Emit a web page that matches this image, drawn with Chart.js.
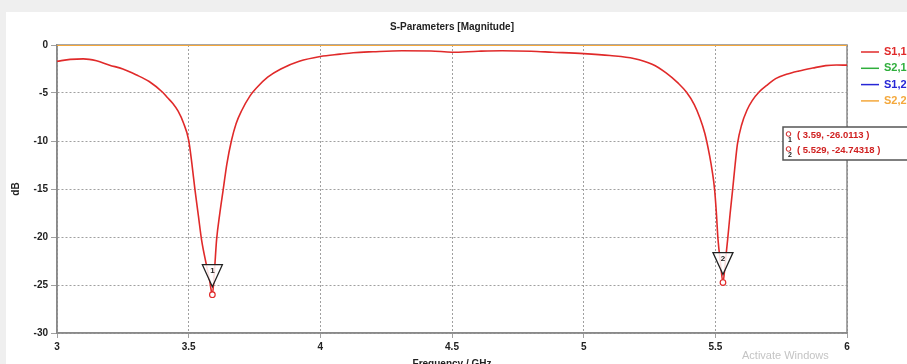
<!DOCTYPE html>
<html>
<head>
<meta charset="utf-8">
<script src="https://cdn.jsdelivr.net/npm/chart.js@4"></script>
<style>
  html, body { margin: 0; padding: 0; background: #fff; }
  canvas { display: block; }
</style>
</head>
<body>
<canvas id="myChart" width="907" height="364"></canvas>
<script>
// S1,1 magnitude (GHz, dB)
var freq = [3.0, 3.05, 3.1, 3.15, 3.2, 3.25, 3.3, 3.35, 3.4, 3.42, 3.44, 3.46, 3.48, 3.5, 3.512, 3.524, 3.537, 3.549, 3.568, 3.58, 3.59, 3.598, 3.606, 3.618, 3.631, 3.645, 3.663, 3.68, 3.7, 3.733, 3.76, 3.8, 3.85, 3.92, 4.0, 4.075, 4.125, 4.2, 4.31, 4.42, 4.5, 4.6, 4.69, 4.8, 4.88, 5.0, 5.1, 5.19, 5.26, 5.313, 5.36, 5.39, 5.42, 5.44, 5.46, 5.478, 5.488, 5.497, 5.504, 5.51, 5.52, 5.529, 5.538, 5.547, 5.556, 5.566, 5.575, 5.584, 5.6, 5.62, 5.64, 5.666, 5.7, 5.729, 5.77, 5.818, 5.87, 5.919, 5.96, 6.0];
var s11  = [-1.7, -1.5, -1.45, -1.65, -2.1, -2.5, -3.1, -3.8, -4.9, -5.5, -6.1, -6.9, -8.1, -9.9, -12.3, -15.1, -17.8, -20.3, -23.0, -24.6, -26.0113, -23.5, -20.3, -17.6, -15.1, -12.4, -9.9, -8.2, -6.9, -5.3, -4.4, -3.35, -2.5, -1.7, -1.2, -0.95, -0.8, -0.7, -0.6, -0.62, -0.75, -0.65, -0.6, -0.65, -0.75, -0.9, -1.1, -1.4, -2.0, -2.9, -4.0, -4.9, -6.2, -7.5, -9.2, -11.5, -13.1, -15.0, -17.5, -20.2, -22.8, -24.74318, -22.6, -20.2, -17.6, -15.0, -12.5, -10.3, -8.3, -6.8, -5.8, -4.9, -4.1, -3.5, -3.05, -2.7, -2.4, -2.15, -2.08, -2.1];
var s21 = [0, 0];
var s12 = [0, 0];
var s22 = [0, 0];
var flatFreq = [3, 6];

var seriesNames = ["S1,1", "S2,1", "S1,2", "S2,2"];
var seriesColors = ["#e02a2a", "#2fae3c", "#2626d6", "#f4a83c"];

var markerFreq = [3.59, 5.529];
var markerDb = [-26.0113, -24.74318];
var markerText = ["( 3.59, -26.0113 )", "( 5.529, -24.74318 )"];

var xTicks = [3, 3.5, 4, 4.5, 5, 5.5, 6];
var yTicks = [0, -5, -10, -15, -20, -25, -30];

function pairs(xs, ys) {
  var out = [];
  for (var i = 0; i < xs.length; i++) out.push({x: xs[i], y: ys[i]});
  return out;
}

var FONT = "'Liberation Sans Narrow', 'Liberation Sans', Arial, sans-serif";

var extras = {
  id: 'extras',
  beforeDraw: function(chart) {
    var c = chart.ctx;
    c.save();
    c.fillStyle = '#ffffff';
    c.fillRect(0, 0, chart.width, chart.height);
    c.fillStyle = '#efefef';
    c.fillRect(0, 0, chart.width, 12);
    c.fillRect(0, 0, 6, chart.height);
    c.restore();
  },
  beforeDatasetsDraw: function(chart) {
    var c = chart.ctx, a = chart.chartArea;
    c.save();
    c.strokeStyle = '#8a8a8a';
    c.lineWidth = 1.5;
    c.strokeRect(a.left, a.top, a.right - a.left, a.bottom - a.top);
    c.restore();
  },
  afterDraw: function(chart) {
    var c = chart.ctx, a = chart.chartArea;
    var xs = chart.scales.x, ys = chart.scales.y;
    c.save();
    // title
    c.fillStyle = '#222';
    c.font = 'bold 10px ' + FONT;
    c.textAlign = 'center';
    c.textBaseline = 'middle';
    c.fillText('S-Parameters [Magnitude]', (a.left + a.right) / 2, 27);
    // axis titles
    c.fillText('Frequency / GHz', (a.left + a.right) / 2, 364);
    c.save();
    c.translate(16, (a.top + a.bottom) / 2);
    c.rotate(-Math.PI / 2);
    c.fillText('dB', 0, 0);
    c.restore();
    // legend
    c.textAlign = 'left';
    c.font = 'bold 11px ' + FONT;
    for (var i = 0; i < seriesNames.length; i++) {
      var ly = 52 + i * 16.3;
      c.strokeStyle = seriesColors[i];
      c.lineWidth = 1.5;
      c.beginPath();
      c.moveTo(861, ly);
      c.lineTo(879, ly);
      c.stroke();
      c.fillStyle = seriesColors[i];
      c.fillText(seriesNames[i], 884, ly);
    }
    // marker triangles
    for (var m = 0; m < markerFreq.length; m++) {
      var px = xs.getPixelForValue(markerFreq[m]);
      var py = ys.getPixelForValue(markerDb[m]);
      c.fillStyle = 'rgba(255,255,255,0.85)';
      c.strokeStyle = '#222';
      c.lineWidth = 1.3;
      c.beginPath();
      c.moveTo(px - 10, py - 30);
      c.lineTo(px + 10, py - 30);
      c.lineTo(px, py - 8);
      c.closePath();
      c.fill();
      c.stroke();
      c.fillStyle = '#222';
      c.font = 'bold 8px ' + FONT;
      c.textAlign = 'center';
      c.fillText(String(m + 1), px, py - 24);
    }
    // marker value box
    c.fillStyle = '#ffffff';
    c.fillRect(783, 127, 130, 33);
    c.strokeStyle = '#555';
    c.lineWidth = 1.5;
    c.strokeRect(783, 127, 130, 33);
    c.textAlign = 'left';
    for (var k = 0; k < markerText.length; k++) {
      var ty = 135 + k * 15;
      c.strokeStyle = '#d02020';
      c.lineWidth = 1;
      c.beginPath();
      c.arc(788.5, ty - 1, 2.3, 0, Math.PI * 2);
      c.stroke();
      c.fillStyle = '#222';
      c.font = 'bold 7px ' + FONT;
      c.fillText(String(k + 1), 788, ty + 5);
      c.fillStyle = '#d02020';
      c.font = 'bold 9.5px ' + FONT;
      c.fillText(markerText[k], 797, ty);
    }
    // watermark
    c.fillStyle = '#c4c4c4';
    c.font = '11px ' + FONT;
    c.fillText('Activate Windows', 742, 356);
    c.restore();
  }
};

var ctx = document.getElementById("myChart");
var myChart = new Chart(ctx, {
  type: 'line',
  data: {
    datasets: [{
      label: 'S1,1',
      data: pairs(freq, s11),
      borderColor: seriesColors[0],
      borderWidth: 1.6,
      pointRadius: 0,
      cubicInterpolationMode: 'monotone',
      order: 4
    }, {
      label: 'S2,1',
      data: pairs(flatFreq, s21),
      borderColor: seriesColors[1],
      borderWidth: 2,
      pointRadius: 0,
      order: 3
    }, {
      label: 'S1,2',
      data: pairs(flatFreq, s12),
      borderColor: seriesColors[2],
      borderWidth: 2,
      pointRadius: 0,
      order: 2
    }, {
      label: 'S2,2',
      data: pairs(flatFreq, s22),
      borderColor: seriesColors[3],
      borderWidth: 2.2,
      pointRadius: 0,
      order: 1
    }, {
      label: 'markers',
      data: pairs(markerFreq, markerDb),
      showLine: false,
      pointRadius: 2.8,
      pointBorderWidth: 1.2,
      pointBorderColor: '#e02a2a',
      pointBackgroundColor: '#ffffff',
      order: 0
    }]
  },
  options: {
    responsive: false,
    animation: false,
    devicePixelRatio: 1,
    layout: { padding: { top: 45, right: 60, left: 0, bottom: 0 } },
    plugins: {
      legend: { display: false },
      title: { display: false },
      tooltip: { enabled: false }
    },
    scales: {
      x: {
        type: 'linear',
        min: 3,
        max: 6,
        afterFit: function(s) { s.height = 31; },
        afterBuildTicks: function(s) { s.ticks = xTicks.map(function(v) { return {value: v}; }); },
        ticks: {
          color: '#222', font: { family: FONT, size: 10, weight: 'bold' }, padding: 3, maxRotation: 0,
          callback: function(v) { return String(v); }
        },
        grid: { color: '#a0a0a0', lineWidth: 1, tickLength: 5 },
        border: { color: '#8a8a8a', width: 1.5, dash: [2, 2] }
      },
      y: {
        min: -30,
        max: 0,
        afterFit: function(s) { s.width = 57; },
        afterBuildTicks: function(s) { s.ticks = yTicks.map(function(v) { return {value: v}; }); },
        ticks: {
          color: '#222', font: { family: FONT, size: 10, weight: 'bold' }, padding: 3,
          callback: function(v) { return String(v); }
        },
        grid: { color: '#a0a0a0', lineWidth: 1, tickLength: 6 },
        border: { color: '#8a8a8a', width: 1.5, dash: [2, 2] }
      }
    }
  },
  plugins: [extras]
});
</script>
</body>
</html>
